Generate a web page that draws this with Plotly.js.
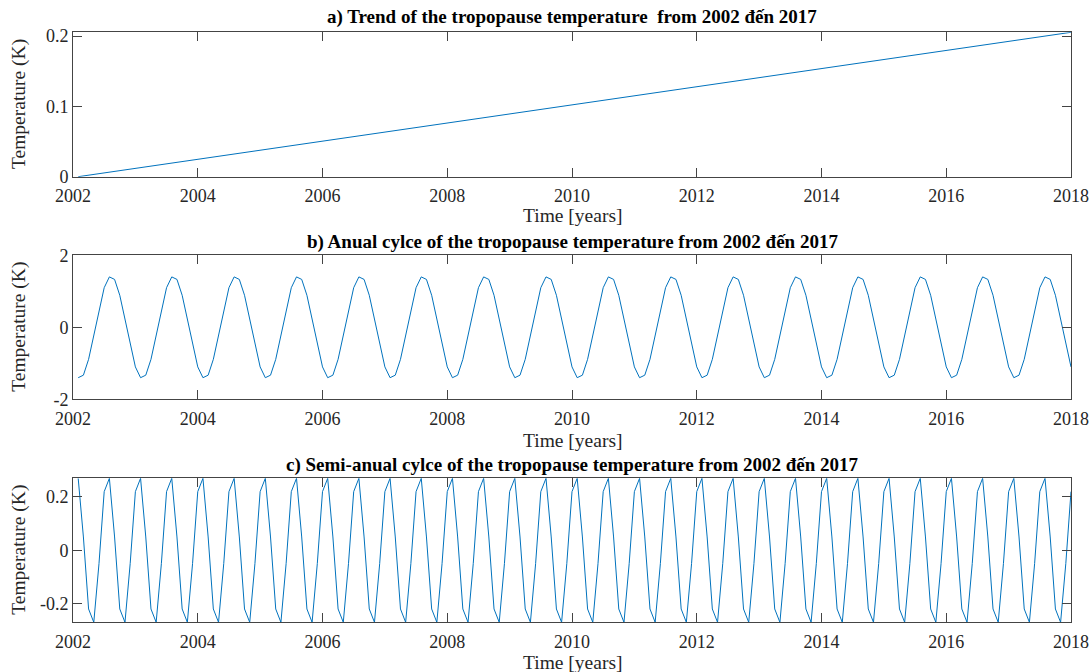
<!DOCTYPE html>
<html>
<head>
<meta charset="utf-8">
<script src="https://cdn.plot.ly/plotly-3.0.1.min.js"></script>
<style>html,body{margin:0;padding:0;background:#fff}#chart{width:1090px;height:672px}</style>
</head>
<body>
<div id="chart"></div>
<script>
// ---- data (monthly, first sample = Feb 2002, step = 1 month) ----
const startYear = 2002 + 1/12;
const stepYears = 1/12;

// trend: straight line, read at its two ends
const trendTime = [2002 + 1/12, 2018];
const trendValue = [0, 0.2055];

// annual cycle (K), 192 monthly values
const annualValue = [
-1.40,-1.33,-0.89,-0.22,0.51,1.10,1.40,1.33,0.89,0.22,-0.51,-1.10,
-1.40,-1.33,-0.89,-0.22,0.51,1.10,1.40,1.33,0.89,0.22,-0.51,-1.10,
-1.40,-1.33,-0.89,-0.22,0.51,1.10,1.40,1.33,0.89,0.22,-0.51,-1.10,
-1.40,-1.33,-0.89,-0.22,0.51,1.10,1.40,1.33,0.89,0.22,-0.51,-1.10,
-1.40,-1.33,-0.89,-0.22,0.51,1.10,1.40,1.33,0.89,0.22,-0.51,-1.10,
-1.40,-1.33,-0.89,-0.22,0.51,1.10,1.40,1.33,0.89,0.22,-0.51,-1.10,
-1.40,-1.33,-0.89,-0.22,0.51,1.10,1.40,1.33,0.89,0.22,-0.51,-1.10,
-1.40,-1.33,-0.89,-0.22,0.51,1.10,1.40,1.33,0.89,0.22,-0.51,-1.10,
-1.40,-1.33,-0.89,-0.22,0.51,1.10,1.40,1.33,0.89,0.22,-0.51,-1.10,
-1.40,-1.33,-0.89,-0.22,0.51,1.10,1.40,1.33,0.89,0.22,-0.51,-1.10,
-1.40,-1.33,-0.89,-0.22,0.51,1.10,1.40,1.33,0.89,0.22,-0.51,-1.10,
-1.40,-1.33,-0.89,-0.22,0.51,1.10,1.40,1.33,0.89,0.22,-0.51,-1.10,
-1.40,-1.33,-0.89,-0.22,0.51,1.10,1.40,1.33,0.89,0.22,-0.51,-1.10,
-1.40,-1.33,-0.89,-0.22,0.51,1.10,1.40,1.33,0.89,0.22,-0.51,-1.10,
-1.40,-1.33,-0.89,-0.22,0.51,1.10,1.40,1.33,0.89,0.22,-0.51,-1.10,
-1.40,-1.33,-0.89,-0.22,0.51,1.10,1.40,1.33,0.89,0.22,-0.51,-1.10
];

// semi-annual cycle (K), 192 monthly values
const semiValue = [
0.27,0.05,-0.22,-0.27,-0.05,0.22,0.27,0.05,-0.22,-0.27,-0.05,0.22,
0.27,0.05,-0.22,-0.27,-0.05,0.22,0.27,0.05,-0.22,-0.27,-0.05,0.22,
0.27,0.05,-0.22,-0.27,-0.05,0.22,0.27,0.05,-0.22,-0.27,-0.05,0.22,
0.27,0.05,-0.22,-0.27,-0.05,0.22,0.27,0.05,-0.22,-0.27,-0.05,0.22,
0.27,0.05,-0.22,-0.27,-0.05,0.22,0.27,0.05,-0.22,-0.27,-0.05,0.22,
0.27,0.05,-0.22,-0.27,-0.05,0.22,0.27,0.05,-0.22,-0.27,-0.05,0.22,
0.27,0.05,-0.22,-0.27,-0.05,0.22,0.27,0.05,-0.22,-0.27,-0.05,0.22,
0.27,0.05,-0.22,-0.27,-0.05,0.22,0.27,0.05,-0.22,-0.27,-0.05,0.22,
0.27,0.05,-0.22,-0.27,-0.05,0.22,0.27,0.05,-0.22,-0.27,-0.05,0.22,
0.27,0.05,-0.22,-0.27,-0.05,0.22,0.27,0.05,-0.22,-0.27,-0.05,0.22,
0.27,0.05,-0.22,-0.27,-0.05,0.22,0.27,0.05,-0.22,-0.27,-0.05,0.22,
0.27,0.05,-0.22,-0.27,-0.05,0.22,0.27,0.05,-0.22,-0.27,-0.05,0.22,
0.27,0.05,-0.22,-0.27,-0.05,0.22,0.27,0.05,-0.22,-0.27,-0.05,0.22,
0.27,0.05,-0.22,-0.27,-0.05,0.22,0.27,0.05,-0.22,-0.27,-0.05,0.22,
0.27,0.05,-0.22,-0.27,-0.05,0.22,0.27,0.05,-0.22,-0.27,-0.05,0.22,
0.27,0.05,-0.22,-0.27,-0.05,0.22,0.27,0.05,-0.22,-0.27,-0.05,0.22
];

const xTickVals = [2002,2004,2006,2008,2010,2012,2014,2016,2018];
const xTickText = ["2002","2004","2006","2008","2010","2012","2014","2016","2018"];
const yTickValsA = [0,0.1,0.2];   const yTickTextA = ["0","0.1","0.2"];
const yTickValsB = [-2,0,2];      const yTickTextB = ["-2","0","2"];
const yTickValsC = [-0.2,0,0.2];  const yTickTextC = ["-0.2","0","0.2"];

const titles = [
  "a) Trend of the tropopause temperature  from 2002 đến 2017",
  "b) Anual cylce of the tropopause temperature from 2002 đến 2017",
  "c) Semi-anual cylce of the tropopause temperature from 2002 đến 2017"
];
const xTitle = "Time [years]";
const yTitle = "Temperature (K)";

// ---- plot ----
const lineColor = "#0072BD";
const FONT = "Liberation Serif, Times New Roman, serif";
const traces = [
  {x: trendTime, y: trendValue, type: "scatter", mode: "lines", line: {color: lineColor, width: 1}, xaxis: "x", yaxis: "y", hoverinfo: "skip"},
  {x0: startYear, dx: stepYears, y: annualValue, type: "scatter", mode: "lines", line: {color: lineColor, width: 1}, xaxis: "x2", yaxis: "y2", hoverinfo: "skip"},
  {x0: startYear, dx: stepYears, y: semiValue, type: "scatter", mode: "lines", line: {color: lineColor, width: 1}, xaxis: "x3", yaxis: "y3", hoverinfo: "skip"}
];

const H = 672;
const p = px => 1 - px / H;

function xax(anchor) {
  return {
    anchor: anchor, domain: [0, 1], range: [2002, 2018],
    tickvals: xTickVals, ticktext: xTickText,
    ticks: "inside", ticklen: 9, tickwidth: 1, tickcolor: "#444",
    ticklabelstandoff: 3,
    showline: true, linecolor: "#444", linewidth: 1, mirror: "ticks",
    showgrid: false, zeroline: false, automargin: false,
    tickfont: {family: FONT, size: 18, color: "#262626"}
  };
}
function yax(anchor, dom, range, tv, tt) {
  return {
    anchor: anchor, domain: dom, range: range,
    tickvals: tv, ticktext: tt,
    ticks: "inside", ticklen: 9, tickwidth: 1, tickcolor: "#444",
    showline: true, linecolor: "#444", linewidth: 1, mirror: "ticks",
    showgrid: false, zeroline: false, automargin: false,
    tickfont: {family: FONT, size: 18, color: "#262626"}
  };
}

const domA = [p(176.7), p(32.3)];
const domB = [p(399.3), p(255.3)];
const domC = [p(622.3), p(478.3)];

const ann = [];
const titleY = [17, 242, 465];
const xTitleY = [216, 440, 662];
const yTitleY = [104.5, 327.3, 550.3];
for (let i = 0; i < 3; i++) {
  ann.push({text: "<b>" + titles[i] + "</b>", xref: "paper", yref: "paper", x: 0.5, y: p(titleY[i]), xanchor: "center", yanchor: "middle", showarrow: false, font: {family: FONT, size: 19, color: "#000"}});
  ann.push({text: xTitle, xref: "paper", yref: "paper", x: 0.5, y: p(xTitleY[i]), xanchor: "center", yanchor: "middle", showarrow: false, font: {family: FONT, size: 19.5, color: "#262626"}});
  ann.push({text: yTitle, xref: "paper", yref: "paper", x: (19.5 - 73) / 998, y: p(yTitleY[i]), xanchor: "center", yanchor: "middle", textangle: -90, showarrow: false, font: {family: FONT, size: 19.5, color: "#262626"}});
}

const layout = {
  width: 1090, height: 672,
  margin: {l: 73, r: 19, t: 0, b: 0},
  paper_bgcolor: "#fff", plot_bgcolor: "#fff",
  showlegend: false,
  xaxis: xax("y"), yaxis: yax("x", domA, [0, 0.2055], yTickValsA, yTickTextA),
  xaxis2: xax("y2"), yaxis2: yax("x2", domB, [-2, 2], yTickValsB, yTickTextB),
  xaxis3: xax("y3"), yaxis3: yax("x3", domC, [-0.27, 0.27], yTickValsC, yTickTextC),
  annotations: ann
};

Plotly.newPlot("chart", traces, layout, {staticPlot: true, displayModeBar: false});
</script>
</body>
</html>
